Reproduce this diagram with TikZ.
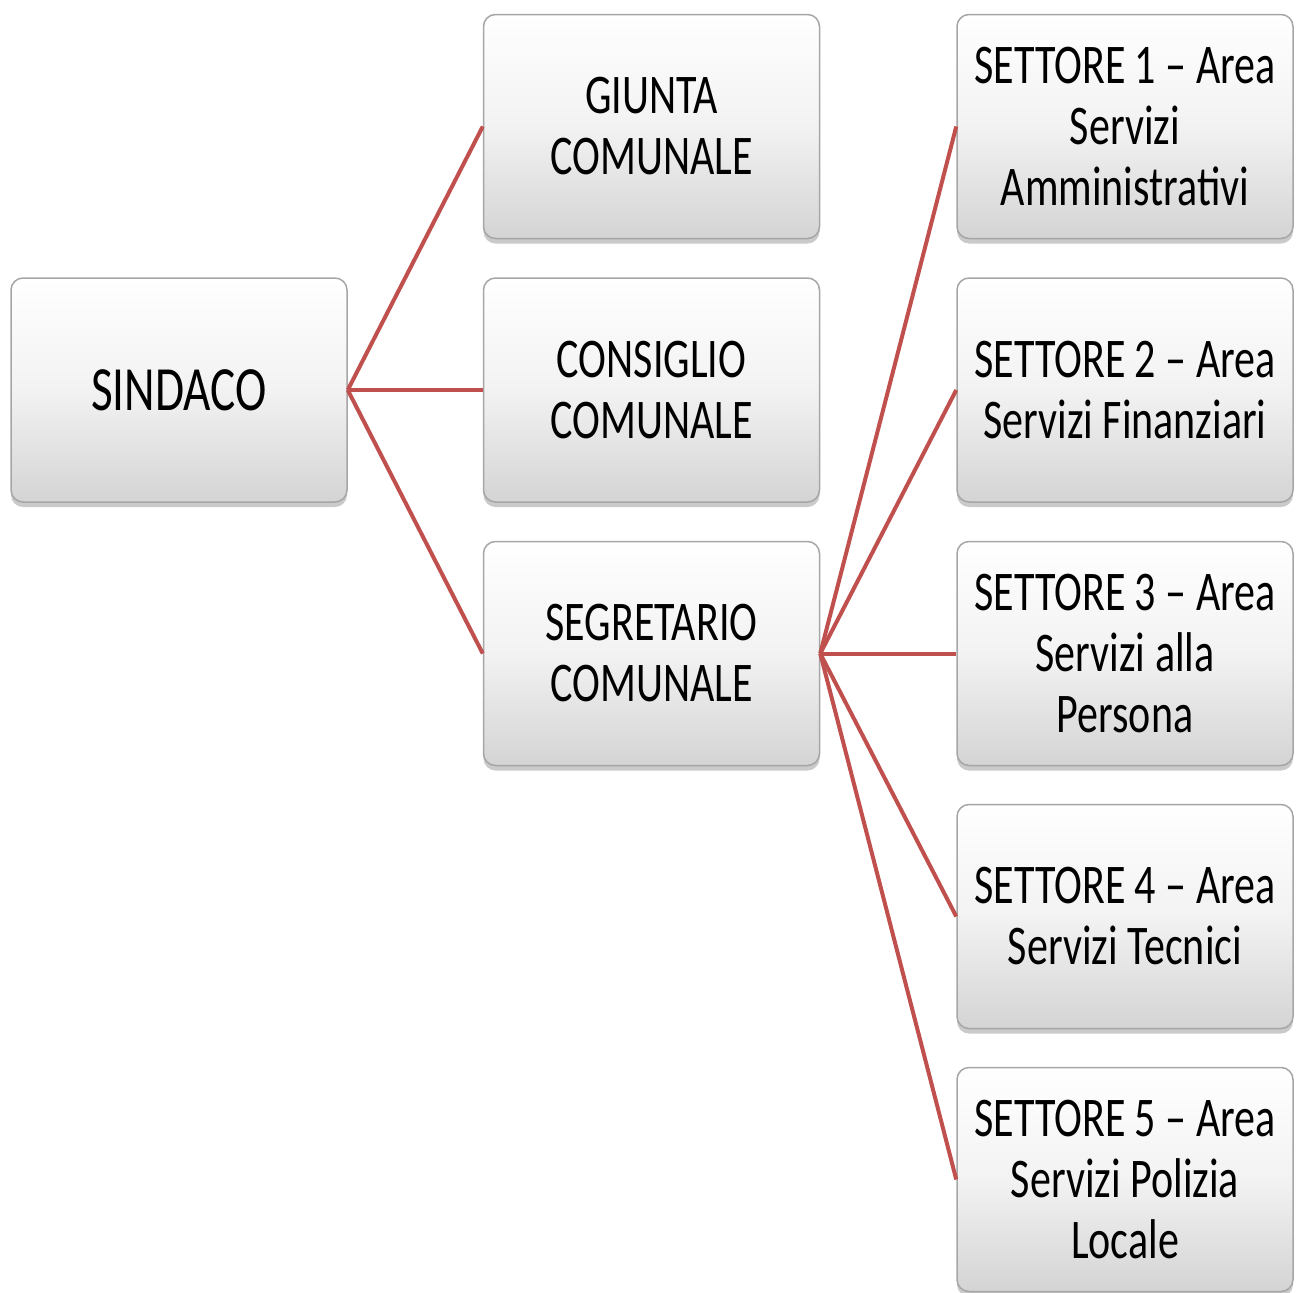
\documentclass[tikz,border=0pt]{standalone}
\usepackage{fontspec}
\usetikzlibrary{shadows}
\newfontfamily\carl[FakeStretch=0.75]{Carlito}
\definecolor{linkred}{HTML}{C0504D}
\definecolor{boxedge}{HTML}{A6A6A6}
\definecolor{boxbot}{HTML}{D4D4D4}
\begin{document}
\begin{tikzpicture}[x=1pt,y=-1pt,
  orgbox/.style={rectangle, rounded corners=12pt, draw=boxedge, line width=1.5pt,
    top color=white, bottom color=boxbot, middle color=white!95!black,
    minimum width=336pt, minimum height=224pt, align=center, inner sep=0pt,
    font=\carl\fontsize{56}{61}\selectfont,
    drop shadow={shadow xshift=0pt, shadow yshift=-5pt, opacity=0.35, fill=black!60}},
  bigtext/.style={font=\carl\fontsize{63}{66}\selectfont},
  link/.style={draw=linkred, line width=4pt}]
\useasboundingbox (0,0) rectangle (1299,1293);
\node[orgbox, bigtext] (sind) at (179,390) {SINDACO};
\node[orgbox] (giu) at (651.5,126.5) {GIUNTA\\COMUNALE};
\node[orgbox] (con) at (651.5,390) {CONSIGLIO\\COMUNALE};
\node[orgbox] (seg) at (651.5,653.5) {SEGRETARIO\\COMUNALE};
\node[orgbox] (s1) at (1125,126.5) {SETTORE 1 – Area\\Servizi\\Amministrativi};
\node[orgbox] (s2) at (1125,390) {SETTORE 2 – Area\\Servizi Finanziari};
\node[orgbox] (s3) at (1125,653.5) {SETTORE 3 – Area\\Servizi alla\\Persona};
\node[orgbox] (s4) at (1125,916.5) {SETTORE 4 – Area\\Servizi Tecnici};
\node[orgbox] (s5) at (1125,1179.5) {SETTORE 5 – Area\\Servizi Polizia\\Locale};
\foreach \t in {giu,con,seg} \draw[link] (sind.east) -- (\t.west);
\foreach \t in {s1,s2,s3,s4,s5} \draw[link] (seg.east) -- (\t.west);
\end{tikzpicture}
\end{document}
